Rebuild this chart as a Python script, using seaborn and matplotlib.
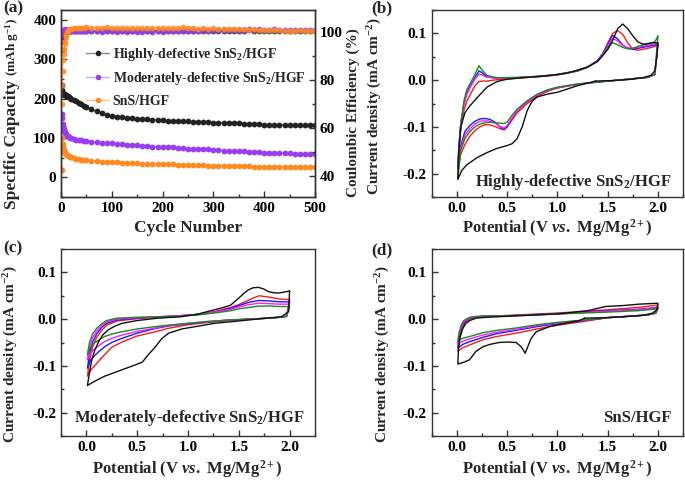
import matplotlib
matplotlib.use('Agg')
import matplotlib.pyplot as plt
import seaborn as sns
import pandas as pd
from matplotlib.lines import Line2D
from matplotlib.ticker import MultipleLocator, FormatStrFormatter

# ---------------- Panel (a) data ----------------
cycles = [1, 2, 3, 4, 5, 6, 7, 8, 9, 10,
          12, 14, 16, 18, 20,
          25, 30, 35, 40, 45, 50,
          60, 70, 80, 90, 100, 110, 120, 130, 140, 150,
          160, 170, 180, 190, 200, 210, 220, 230, 240, 250,
          260, 270, 280, 290, 300, 310, 320, 330, 340, 350,
          360, 370, 380, 390, 400, 410, 420, 430, 440, 450,
          460, 470, 480, 490, 500]

cap_high = [235, 222, 215, 212, 211, 210, 210, 209, 209, 208,
            207, 206, 204, 202, 200,
            197, 193, 189, 186, 182, 179,
            173, 168, 163, 159, 156, 154, 152, 151, 150, 149,
            148, 147, 146, 146, 145, 144, 143, 143, 142, 142,
            141, 141, 140, 140, 139, 139, 138, 138, 137, 137,
            136, 136, 135, 135, 134, 134, 134, 133, 133, 133,
            133, 132, 132, 132, 132]
cap_mod = [160, 150, 135, 127, 122, 118, 115, 112, 110, 108,
           106, 104, 102, 101, 100,
           98, 96, 95, 94, 93, 92,
           90, 89, 88, 87, 86, 85, 84, 83, 82, 81,
           80, 79, 78, 78, 77, 76, 76, 75, 74, 73,
           73, 72, 71, 71, 70, 69, 68, 68, 67, 66,
           66, 65, 65, 64, 63, 63, 62, 62, 61, 61,
           60, 60, 59, 59, 59]
cap_sns = [18, 100, 85, 76, 70, 66, 63, 61, 59, 58,
           56, 54, 53, 52, 51,
           49, 47, 46, 45, 44, 43,
           42, 41, 40, 39, 38, 38, 37, 37, 36, 36,
           35, 35, 34, 34, 33, 33, 33, 32, 32, 32,
           31, 31, 31, 30, 30, 30, 29, 29, 29, 28,
           28, 28, 27, 27, 27, 27, 26, 26, 26, 26,
           25, 25, 25, 25, 25]

ce_high = [92.5, 96.3, 97.8, 98.6, 99.2, 99.6, 99.9, 100.1, 100.3, 100.4,
           100.5, 100.6, 100.5, 100.7, 100.6,
           100.6, 100.8, 100.5, 100.7, 100.6, 100.5,
           100.6, 100.4, 100.7, 100.5, 100.6, 100.4, 100.6, 100.5, 100.7, 100.5,
           100.6, 100.4, 100.5, 100.7, 100.5, 100.6, 100.4, 100.6, 100.5, 100.7,
           100.6, 100.5, 100.7, 100.6, 100.8, 100.6, 100.7, 100.5, 100.8, 100.6,
           100.7, 100.9, 100.6, 100.8, 100.7, 100.6, 100.8, 100.7, 100.6, 100.8,
           100.7, 100.6, 100.8, 100.7, 100.6]
ce_mod = [96.0, 99.0, 100.3, 100.9, 101.2, 101.0, 101.3, 100.9, 101.1, 100.8,
          100.9, 101.0, 100.7, 100.8, 100.6,
          100.7, 100.5, 100.6, 100.4, 100.6, 100.5,
          100.4, 100.6, 100.3, 100.5, 100.4, 100.2, 100.5, 100.3, 100.4, 100.2,
          100.3, 100.5, 100.2, 100.4, 100.3, 100.6, 100.4, 100.5, 100.7, 100.6,
          100.8, 100.7, 100.9, 100.8, 101.0, 100.9, 101.1, 100.9, 101.2, 101.0,
          101.1, 101.3, 101.0, 101.6, 101.2, 101.1, 101.3, 101.0, 101.2, 101.1,
          101.0, 101.2, 100.9, 101.1, 100.9]
ce_sns = [70.0, 78.0, 84.0, 88.5, 91.0, 93.0, 95.0, 96.5, 98.0, 99.0,
          100.0, 100.6, 101.0, 101.3, 101.5,
          101.7, 101.9, 101.8, 102.0, 101.9, 102.1,
          101.9, 102.0, 101.8, 102.1, 101.9, 101.8, 102.0, 101.7, 101.9, 102.0,
          101.8, 101.9, 101.7, 102.0, 101.8, 101.9, 101.7, 101.8, 102.2, 101.7,
          101.8, 101.6, 101.7, 101.5, 101.8, 101.6, 101.4, 101.6, 101.5, 101.3,
          101.4, 101.2, 101.3, 101.1, 101.2, 101.0, 101.1, 100.9, 100.6, 100.8,
          100.7, 100.9, 100.6, 100.8, 100.7]

legend_labels = ["Highly-defective SnS$_2$/HGF",
                 "Moderately-defective SnS$_2$/HGF",
                 "SnS/HGF"]

# ---------------- Panel (b) data: Highly-defective ----------------
b_cat_v = [2.0, 1.97, 1.9, 1.8, 1.6, 1.4, 1.2, 1.0, 0.9, 0.8, 0.7, 0.6, 0.55, 0.5,
           0.47, 0.43, 0.38, 0.33, 0.28, 0.23, 0.18, 0.13, 0.08, 0.04, 0.01]
b_an_v = [0.01, 0.02, 0.04, 0.07, 0.1, 0.14, 0.18, 0.22, 0.25, 0.3, 0.4, 0.6, 0.8,
          1.0, 1.2, 1.3, 1.4, 1.45, 1.5, 1.55, 1.6, 1.65, 1.7, 1.75, 1.8, 1.9, 1.97, 2.0]
b_cat = {
    'red':     [0.075, 0.012, 0.006, 0.004, 0.0, -0.004, -0.009, -0.017, -0.024, -0.035,
                -0.05, -0.07, -0.085, -0.1, -0.106, -0.104, -0.099, -0.096, -0.095, -0.1,
                -0.108, -0.12, -0.138, -0.158, -0.19],
    'blue':    [0.077, 0.012, 0.006, 0.004, 0.0, -0.004, -0.009, -0.016, -0.022, -0.032,
                -0.046, -0.066, -0.082, -0.1, -0.106, -0.1, -0.09, -0.084, -0.082, -0.083,
                -0.088, -0.097, -0.11, -0.14, -0.185],
    'magenta': [0.08, 0.012, 0.006, 0.004, 0.0, -0.004, -0.009, -0.016, -0.022, -0.032,
                -0.046, -0.066, -0.081, -0.097, -0.103, -0.099, -0.092, -0.088, -0.087, -0.088,
                -0.094, -0.104, -0.118, -0.145, -0.19],
    'green':   [0.094, 0.013, 0.006, 0.004, 0.0, -0.004, -0.008, -0.015, -0.021, -0.03,
                -0.044, -0.062, -0.075, -0.09, -0.093, -0.092, -0.091, -0.09, -0.091, -0.094,
                -0.1, -0.11, -0.125, -0.15, -0.212],
}
b_an = {
    'red':     [-0.19, -0.15, -0.1, -0.065, -0.045, -0.028, -0.012, -0.003, -0.002, -0.002,
                0.001, 0.004, 0.007, 0.011, 0.019, 0.027, 0.042, 0.056, 0.078, 0.1, 0.106,
                0.098, 0.08, 0.066, 0.064, 0.068, 0.072, 0.075],
    'blue':    [-0.185, -0.14, -0.09, -0.05, -0.027, -0.01, 0.005, 0.02, 0.016, 0.007,
                0.004, 0.005, 0.008, 0.012, 0.02, 0.028, 0.042, 0.056, 0.077, 0.096, 0.088,
                0.075, 0.068, 0.066, 0.068, 0.072, 0.075, 0.077],
    'magenta': [-0.19, -0.145, -0.093, -0.053, -0.03, -0.013, 0.002, 0.013, 0.011, 0.006,
                0.004, 0.005, 0.008, 0.012, 0.02, 0.028, 0.041, 0.054, 0.073, 0.089, 0.084,
                0.074, 0.069, 0.068, 0.07, 0.075, 0.078, 0.08],
    'green':   [-0.212, -0.16, -0.1, -0.045, -0.02, -0.004, 0.012, 0.031, 0.022, 0.01,
                0.005, 0.006, 0.008, 0.012, 0.02, 0.028, 0.04, 0.052, 0.07, 0.08, 0.076,
                0.07, 0.067, 0.068, 0.072, 0.078, 0.082, 0.094],
}
b_black_v = [1.38, 1.2, 1.0, 0.9, 0.8, 0.75, 0.7, 0.65, 0.6, 0.55, 0.5, 0.4, 0.3, 0.2,
             0.1, 0.05, 0.01,
             0.02, 0.04, 0.08, 0.13, 0.2, 0.3, 0.4, 0.5, 0.7, 0.9, 1.1, 1.3, 1.4, 1.5,
             1.55, 1.6, 1.65, 1.7, 1.75, 1.8, 1.85, 1.9, 1.95, 2.0,
             1.99, 1.97, 1.93, 1.85, 1.7, 1.55, 1.38]
b_black_i = [-0.002, -0.012, -0.026, -0.030, -0.036, -0.045, -0.065, -0.100, -0.125,
             -0.136, -0.140, -0.146, -0.155, -0.166, -0.181, -0.193, -0.212,
             -0.15, -0.10, -0.07, -0.055, -0.038, -0.015, -0.003, 0.002, 0.006, 0.009,
             0.015, 0.028, 0.04, 0.065, 0.085, 0.11, 0.12, 0.11, 0.095, 0.082, 0.077,
             0.078, 0.08, 0.08,
             0.05, 0.02, 0.01, 0.005, 0.001, -0.001, -0.002]

# ---------------- Panel (c) data: Moderately-defective ----------------
c_cat_v = [2.0, 1.97, 1.9, 1.8, 1.6, 1.4, 1.2, 1.0, 0.8, 0.68, 0.5, 0.35, 0.25,
           0.18, 0.12, 0.08, 0.04, 0.01]
c_an_v = [0.01, 0.03, 0.06, 0.1, 0.15, 0.2, 0.3, 0.5, 0.7, 0.9, 1.1, 1.26, 1.42,
          1.5, 1.6, 1.7, 1.8, 1.9, 1.97, 2.0]
c_cat = {
    'red':     [0.042, 0.006, 0.004, 0.002, 0.0, -0.003, -0.007, -0.012, -0.02, -0.027,
                -0.036, -0.049, -0.06, -0.076, -0.09, -0.1, -0.11, -0.122],
    'blue':    [0.037, 0.006, 0.004, 0.002, 0.0, -0.002, -0.006, -0.01, -0.015, -0.02,
                -0.03, -0.041, -0.05, -0.059, -0.07, -0.078, -0.088, -0.105],
    'magenta': [0.032, 0.006, 0.004, 0.002, 0.0, -0.002, -0.005, -0.009, -0.014, -0.019,
                -0.026, -0.034, -0.041, -0.048, -0.057, -0.064, -0.073, -0.087],
    'green':   [0.027, 0.006, 0.004, 0.002, 0.0, -0.002, -0.005, -0.009, -0.013, -0.016,
                -0.021, -0.027, -0.032, -0.037, -0.045, -0.051, -0.06, -0.076],
}
c_an = {
    'red':     [-0.122, -0.09, -0.06, -0.04, -0.024, -0.013, -0.004, 0.001, 0.004, 0.007,
                0.01, 0.016, 0.025, 0.031, 0.041, 0.05, 0.047, 0.043, 0.042, 0.042],
    'blue':    [-0.105, -0.075, -0.05, -0.032, -0.018, -0.009, -0.002, 0.002, 0.005, 0.007,
                0.01, 0.015, 0.023, 0.029, 0.036, 0.04, 0.039, 0.037, 0.037, 0.037],
    'magenta': [-0.087, -0.06, -0.04, -0.026, -0.014, -0.006, 0.0, 0.003, 0.005, 0.007,
                0.01, 0.015, 0.021, 0.026, 0.031, 0.034, 0.033, 0.032, 0.032, 0.032],
    'green':   [-0.076, -0.05, -0.032, -0.02, -0.01, -0.003, 0.002, 0.004, 0.005, 0.006,
                0.009, 0.013, 0.018, 0.022, 0.025, 0.028, 0.028, 0.027, 0.027, 0.027],
}
c_black_v = [2.0, 1.99, 1.92, 1.76, 1.59, 1.26, 0.94, 0.81, 0.74, 0.68, 0.61, 0.55,
             0.48, 0.38, 0.28, 0.18, 0.08, 0.01,
             0.03, 0.05, 0.08, 0.12, 0.16, 0.215, 0.28, 0.35, 0.5, 0.7, 0.93, 1.1, 1.26,
             1.35, 1.42, 1.5, 1.55, 1.59, 1.64, 1.69, 1.74, 1.79, 1.85, 1.9, 1.95, 2.0]
c_black_i = [0.06, 0.016, 0.005, 0.002, -0.002, -0.009, -0.021, -0.03, -0.042, -0.059,
             -0.076, -0.092, -0.098, -0.106, -0.114, -0.122, -0.133, -0.142,
             -0.115, -0.09, -0.068, -0.048, -0.034, -0.023, -0.015, -0.009, -0.003, 0.002,
             0.005, 0.011, 0.02, 0.025, 0.03, 0.045, 0.055, 0.062, 0.067, 0.068, 0.065,
             0.059, 0.056, 0.056, 0.058, 0.06]

# ---------------- Panel (d) data: SnS/HGF ----------------
d_cat_v = [2.0, 1.98, 1.9, 1.7, 1.5, 1.2, 1.0, 0.8, 0.59, 0.4, 0.26, 0.13, 0.06, 0.027, 0.01]
d_an_v = [0.01, 0.02, 0.04, 0.06, 0.09, 0.13, 0.2, 0.26, 0.5, 1.0, 1.5, 1.8, 2.0]
d_cat = {
    'red':     [0.030, 0.013, 0.009, 0.006, 0.003, -0.007, -0.013, -0.021, -0.030, -0.037,
                -0.044, -0.055, -0.061, -0.066, -0.069],
    'blue':    [0.025, 0.013, 0.009, 0.006, 0.003, -0.005, -0.01, -0.016, -0.024, -0.031,
                -0.039, -0.048, -0.054, -0.059, -0.062],
    'magenta': [0.024, 0.013, 0.009, 0.006, 0.003, -0.004, -0.008, -0.014, -0.022, -0.028,
                -0.034, -0.042, -0.047, -0.051, -0.054],
    'green':   [0.022, 0.013, 0.009, 0.006, 0.003, -0.003, -0.007, -0.012, -0.019, -0.024,
                -0.029, -0.037, -0.041, -0.044, -0.048],
}
d_an = {
    'red':     [-0.069, -0.05, -0.03, -0.016, -0.006, 0.0, 0.004, 0.006, 0.008, 0.013,
                0.02, 0.025, 0.030],
    'blue':    [-0.062, -0.042, -0.023, -0.011, -0.003, 0.002, 0.005, 0.006, 0.007, 0.012,
                0.018, 0.021, 0.025],
    'magenta': [-0.054, -0.036, -0.019, -0.008, -0.002, 0.003, 0.005, 0.006, 0.007, 0.011,
                0.017, 0.020, 0.024],
    'green':   [-0.048, -0.03, -0.015, -0.005, 0.0, 0.004, 0.006, 0.0065, 0.007, 0.011,
                0.015, 0.018, 0.022],
}
d_black_v = [1.27, 1.22, 1.1, 0.92, 0.79, 0.74, 0.7, 0.68, 0.66, 0.64, 0.59, 0.5, 0.42,
             0.33, 0.26, 0.19, 0.126, 0.06, 0.01,
             0.015, 0.03, 0.06, 0.09, 0.13, 0.19, 0.3, 0.5, 0.8, 1.0, 1.3, 1.48, 1.65,
             1.81, 2.0,
             1.99, 1.95, 1.85, 1.65, 1.45, 1.27]
d_black_i = [0.002, -0.003, -0.008, -0.016, -0.027, -0.041, -0.062, -0.073, -0.066,
             -0.059, -0.05, -0.049, -0.05, -0.054, -0.059, -0.069, -0.087, -0.093, -0.096,
             -0.07, -0.04, -0.02, -0.009, -0.003, 0.002, 0.004, 0.006, 0.009, 0.011, 0.018,
             0.027, 0.029, 0.032, 0.034,
             0.02, 0.013, 0.008, 0.005, 0.003, 0.002]

cv_titles = ["Highly-defective SnS$_2$/HGF", "Moderately-defective SnS$_2$/HGF", "SnS/HGF"]

# ---------------- Style ----------------
sns.set_theme(style='ticks')
plt.rcParams['font.family'] = ['Liberation Serif', 'DejaVu Serif']
plt.rcParams['font.weight'] = 'bold'
plt.rcParams['axes.labelweight'] = 'bold'
plt.rcParams['mathtext.fontset'] = 'custom'
plt.rcParams['mathtext.rm'] = 'Liberation Serif:bold'
plt.rcParams['mathtext.bf'] = 'Liberation Serif:bold'
plt.rcParams['mathtext.it'] = 'Liberation Serif:italic:bold'
plt.rcParams['axes.unicode_minus'] = False

C_BLACK = '#222222'
C_PURPLE = '#9a3cf2'
C_ORANGE = '#ff8a22'
LIGHT = ['#8a8a8a', '#c9a6ff', '#ffc385']

W, H = 685.0, 480.0
fig = plt.figure(figsize=(W / 100, H / 100), dpi=100)
ax_a = fig.add_axes([61 / W, (H - 197) / H, 254 / W, 187 / H])
ax_b = fig.add_axes([431.7 / W, (H - 197) / H, 251.3 / W, 187 / H])
ax_c = fig.add_axes([61 / W, (H - 436) / H, 254 / W, 187 / H])
ax_d = fig.add_axes([431.7 / W, (H - 436) / H, 251.3 / W, 187 / H])


def style_axis(ax):
    for s in ax.spines.values():
        s.set_linewidth(1.0)
        s.set_color('#333333')
    ax.tick_params(which='both', direction='in', width=1.0, colors='#333333',
                   labelcolor='black', labelsize=11)
    ax.tick_params(which='major', length=4)
    ax.tick_params(which='minor', length=2)
    for lab in ax.get_xticklabels() + ax.get_yticklabels():
        lab.set_fontweight('bold')


renderer = fig.canvas.get_renderer()


def rich_label(parts, x_px, y_px, vertical, gap=3.5):
    """parts: list of (text, size). Centered along text direction at the given pixel
    (from top-left); the cross coordinate is the text baseline."""
    texts, lengths = [], []
    for s, size in parts:
        t = fig.text(0, 0, s, fontsize=size, fontweight='bold', ha='left', va='baseline',
                     rotation=90 if vertical else 0, rotation_mode='anchor')
        bb = t.get_window_extent(renderer)
        texts.append(t)
        lengths.append(bb.height if vertical else bb.width)
    total = sum(lengths) + gap * (len(parts) - 1)
    if vertical:
        pos = y_px + total / 2.0
        for t, L in zip(texts, lengths):
            t.set_position((x_px / W, 1 - pos / H))
            pos -= L + gap
    else:
        pos = x_px - total / 2.0
        for t, L in zip(texts, lengths):
            t.set_position((pos / W, 1 - y_px / H))
            pos += L + gap


# ---------------- Panel (a) ----------------
ax2 = ax_a.twinx()
ax2.set_position(ax_a.get_position())
cols = [C_BLACK, C_PURPLE, C_ORANGE]
for caps, col in zip([cap_high, cap_mod, cap_sns], cols):
    sns.lineplot(x=cycles, y=caps, ax=ax_a, color=col, marker='o', markersize=4.2,
                 markeredgewidth=0, linewidth=0.8, estimator=None, sort=False)
for ces, col in zip([ce_high, ce_mod, ce_sns], cols):
    sns.lineplot(x=cycles, y=ces, ax=ax2, color=col, marker='o', markersize=4.2,
                 markeredgewidth=0, linewidth=0.8, alpha=0.85, estimator=None, sort=False)

ax_a.set_xlim(0, 500)
ax_a.set_ylim(-50, 425)
ax2.set_ylim(31, 109.4)
ax_a.xaxis.set_major_locator(MultipleLocator(100))
ax_a.xaxis.set_minor_locator(MultipleLocator(50))
ax_a.yaxis.set_major_locator(MultipleLocator(100))
ax_a.yaxis.set_minor_locator(MultipleLocator(50))
ax2.set_yticks([40, 60, 80, 100])
ax2.yaxis.set_minor_locator(MultipleLocator(10))
ax_a.set_xlabel('')
ax_a.set_ylabel('')
ax2.set_ylabel('')
style_axis(ax_a)
style_axis(ax2)
ax_a.tick_params(which='both', right=False, top=False)
ax2.tick_params(which='both', left=False, top=False)

handles = [Line2D([0], [0], color=lc, lw=1.0, marker='o', markersize=4,
                  markerfacecolor=mc, markeredgewidth=0)
           for lc, mc in zip(LIGHT, cols)]
ax2.legend(handles, legend_labels, loc='upper left', bbox_to_anchor=(0.1, 0.81),
           frameon=False, handlelength=1.6, handletextpad=0.3,
           labelspacing=0.55, borderpad=0, borderaxespad=0,
           prop={'weight': 'bold', 'size': 10})

rich_label([("Cycle Number", 12.5)], 188, 232, False)
rich_label([("Specific Capacity", 12.5), ("(mAh g$^{-1}$)", 9.5)], 16, 113, True)
rich_label([("Coulombic Efficiency (%)", 11)], 357, 113, True)

# ---------------- CV panels ----------------
cv_colors = {'red': '#ff1a1a', 'blue': '#1a1aff', 'magenta': '#ff1aff', 'green': '#1a8a1a'}


def draw_cv(ax, cat_v, an_v, cat, an, black_v, black_i):
    for key in ['red', 'blue', 'magenta', 'green']:
        v = list(cat_v) + list(an_v)
        i = list(cat[key]) + list(an[key])
        df = pd.DataFrame({'V': v, 'I': i})
        sns.lineplot(data=df, x='V', y='I', ax=ax, color=cv_colors[key], linewidth=1.0,
                     sort=False, estimator=None)
    df = pd.DataFrame({'V': black_v, 'I': black_i})
    sns.lineplot(data=df, x='V', y='I', ax=ax, color='#111111', linewidth=1.0,
                 sort=False, estimator=None)


draw_cv(ax_b, b_cat_v, b_an_v, b_cat, b_an, b_black_v, b_black_i)
draw_cv(ax_c, c_cat_v, c_an_v, c_cat, c_an, c_black_v, c_black_i)
draw_cv(ax_d, d_cat_v, d_an_v, d_cat, d_an, d_black_v, d_black_i)

for ax, title, tx, ty in [(ax_b, cv_titles[0], 0.955, 0.082),
                          (ax_c, cv_titles[1], 0.96, 0.098),
                          (ax_d, cv_titles[2], 0.955, 0.096)]:
    ax.set_xlim(-0.25, 2.25)
    ax.set_ylim(-0.25, 0.15)
    ax.xaxis.set_major_locator(MultipleLocator(0.5))
    ax.xaxis.set_minor_locator(MultipleLocator(0.25))
    ax.yaxis.set_major_locator(MultipleLocator(0.1))
    ax.yaxis.set_minor_locator(MultipleLocator(0.05))
    ax.xaxis.set_major_formatter(FormatStrFormatter('%.1f'))
    ax.yaxis.set_major_formatter(FormatStrFormatter('%.1f'))
    ax.set_xlabel('')
    ax.set_ylabel('')
    style_axis(ax)
    ax.tick_params(which='both', top=False, right=False)
    ax.text(tx, ty, title, transform=ax.transAxes, ha='right', va='center',
            fontsize=12, fontweight='bold')

xl = "Potential (V $\\mathit{vs.}$ Mg/Mg$^{2+}$)"
yl = "Current density (mA cm$^{-2}$)"
rich_label([(xl, 12)], 557.5, 233, False)
rich_label([(xl, 12)], 187.5, 474, False)
rich_label([(xl, 12)], 557.5, 474, False)
rich_label([(yl, 11)], 379, 106, True)
rich_label([(yl, 11)], 15, 354, True)
rich_label([(yl, 11)], 387, 354, True)

for lab, x, y in [("(a)", 13, 8), ("(b)", 382, 8), ("(c)", 13, 248), ("(d)", 382, 250)]:
    fig.text(x / W, 1 - y / H, lab, ha='center', va='center', fontsize=12.5,
             fontweight='bold')

fig.savefig('out.png', dpi=100)
